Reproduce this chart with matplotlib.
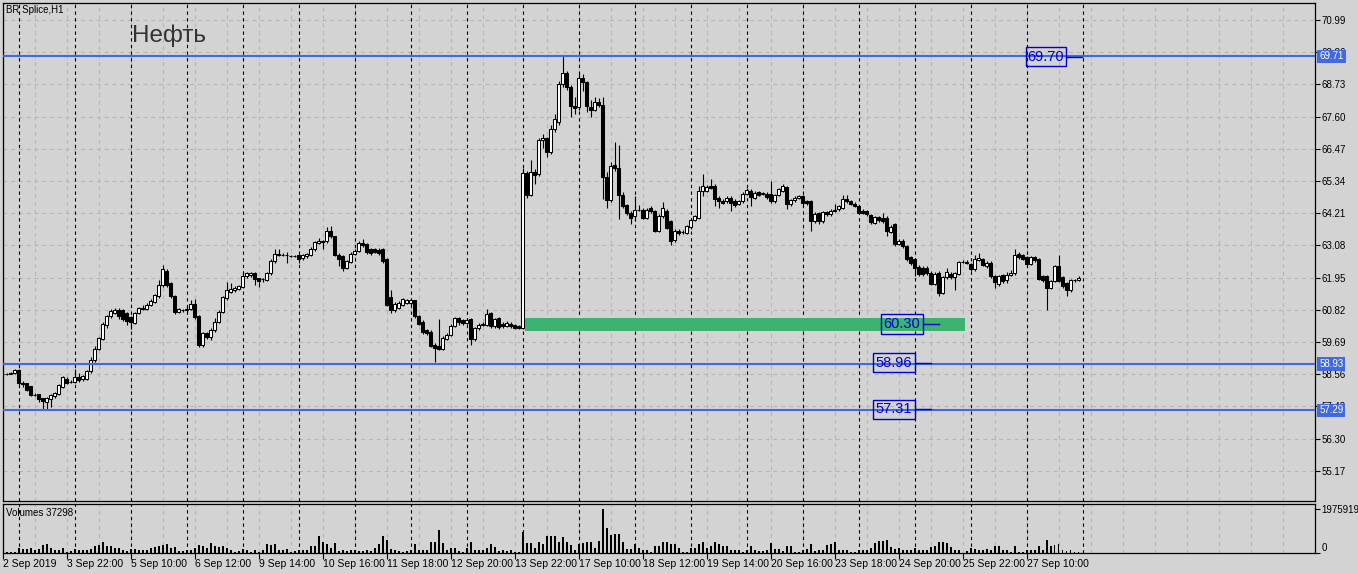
import matplotlib
matplotlib.use('Agg')
import matplotlib.pyplot as plt
import matplotlib.transforms as mtransforms
from matplotlib.patches import Rectangle
import numpy as np

# hourly bars, 14 per trading day (10:00-23:00), Sep 2 has only 4 bars
opens = [
    58.57, 58.58, 58.58, 58.60,
    58.70, 58.27, 58.24, 58.14, 57.84, 57.85, 57.72, 57.58, 57.70, 57.78, 57.87, 58.13, 58.40, 58.30,
    58.30, 58.48, 58.38, 58.40, 58.67, 59.05, 59.45, 59.81, 60.30, 60.60, 60.72, 60.83, 60.80, 60.70,
    60.57, 60.37, 60.70, 60.86, 60.86, 60.98, 61.10, 61.30, 61.68, 62.20, 61.75, 61.30, 60.74, 60.80,
    60.80, 60.85, 61.02, 60.60, 59.57, 60.00, 59.86, 60.12, 60.40, 60.74, 61.23, 61.45, 61.50, 61.55,
    61.63, 62.00, 62.03, 62.10, 61.93, 61.90, 61.88, 62.10, 62.52, 62.75, 62.76, 62.73, 62.70, 62.70,
    62.73, 62.63, 62.70, 62.75, 62.94, 63.18, 63.20, 63.22, 63.57, 63.40, 62.76, 62.72, 62.29, 62.50,
    62.79, 62.88, 63.17, 63.12, 62.96, 62.95, 62.93, 62.95, 62.60, 61.27, 60.80, 60.88, 61.00, 61.07,
    61.05, 61.15, 60.60, 60.40, 60.10, 60.06, 59.60, 59.55, 59.45, 59.81, 59.95, 60.27, 60.53, 60.45,
    60.37, 60.50, 59.78, 60.18, 60.30, 60.30, 60.72, 60.25, 60.53, 60.33, 60.27, 60.33, 60.30, 60.25,
    60.20, 65.63, 64.85, 65.67, 65.57, 66.77, 66.86, 66.36, 67.15, 67.41, 68.73, 69.12, 68.65, 67.97,
    67.93, 68.96, 68.81, 67.95, 67.83, 68.13, 68.02, 65.49, 64.67, 65.90, 65.80, 64.85, 64.49, 64.22,
    64.11, 64.34, 64.34, 64.05, 64.40, 64.28, 63.60, 64.13, 64.30, 63.93, 63.26, 63.58, 63.55, 63.52,
    63.72, 63.99, 64.05, 64.98, 65.00, 65.16, 65.16, 64.75, 64.65, 64.63, 64.75, 64.65, 64.55, 64.63,
    64.89, 65.00, 64.75, 64.95, 64.92, 64.89, 64.89, 64.63, 64.84, 65.00, 65.13, 64.52, 64.66, 64.75,
    64.80, 64.63, 64.63, 63.93, 64.22, 63.93, 64.26, 64.17, 64.28, 64.35, 64.40, 64.70, 64.63, 64.55,
    64.46, 64.28, 64.28, 64.15, 63.88, 64.08, 64.05, 64.05, 63.55, 63.82, 63.14, 63.23, 63.05, 62.67,
    62.59, 62.32, 62.30, 62.30, 62.12, 61.74, 62.12, 61.42, 61.97, 62.09, 61.97, 62.09, 62.50, 62.50,
    62.43, 62.24, 62.58, 62.59, 62.35, 62.47, 62.00, 61.71, 62.04, 61.88, 62.05, 62.10, 62.79, 62.74,
    62.67, 62.44, 62.67, 62.60, 62.00, 62.00, 61.60, 61.83, 62.35, 61.96, 61.75, 61.50, 61.85, 61.85,
]
closes = [
    58.58, 58.58, 58.61, 58.70,
    58.25, 58.22, 58.00, 57.82, 57.84, 57.68, 57.62, 57.73, 57.82, 57.90, 58.19, 58.45, 58.26, 58.30,
    58.48, 58.35, 58.50, 58.67, 59.07, 59.45, 59.83, 60.32, 60.60, 60.77, 60.82, 60.60, 60.50, 60.42,
    60.39, 60.72, 60.88, 60.88, 61.00, 61.12, 61.33, 61.68, 62.24, 61.68, 61.30, 60.74, 60.84, 60.80,
    60.86, 61.02, 60.56, 59.57, 60.00, 59.86, 60.13, 60.40, 60.74, 61.27, 61.50, 61.55, 61.60, 61.65,
    62.00, 62.10, 62.12, 61.90, 61.82, 61.90, 62.12, 62.54, 62.79, 62.78, 62.76, 62.73, 62.70, 62.71,
    62.60, 62.73, 62.77, 62.97, 63.20, 63.25, 63.23, 63.57, 63.40, 62.75, 62.60, 62.28, 62.52, 62.79,
    62.90, 63.17, 63.08, 62.85, 62.83, 62.86, 62.82, 62.52, 61.00, 60.80, 61.03, 61.07, 61.20, 61.15,
    61.15, 60.60, 60.33, 60.03, 60.00, 59.55, 59.48, 59.46, 59.83, 59.95, 60.27, 60.53, 60.38, 60.37,
    60.48, 59.78, 60.18, 60.28, 60.33, 60.68, 60.25, 60.50, 60.22, 60.25, 60.36, 60.25, 60.18, 60.18,
    65.63, 64.85, 65.65, 65.55, 66.77, 66.86, 66.36, 67.15, 67.50, 68.73, 69.12, 68.64, 67.97, 67.90,
    68.96, 68.81, 67.97, 67.83, 68.13, 68.02, 65.49, 64.67, 65.86, 65.80, 64.85, 64.46, 64.22, 64.05,
    64.31, 64.34, 64.05, 64.34, 64.28, 63.60, 64.13, 64.40, 63.70, 63.23, 63.60, 63.50, 63.55, 63.75,
    63.99, 64.10, 65.00, 65.16, 65.13, 65.10, 64.70, 64.63, 64.58, 64.75, 64.58, 64.50, 64.63, 64.89,
    65.04, 64.78, 64.93, 64.85, 64.88, 64.78, 64.63, 64.84, 65.05, 65.17, 64.52, 64.66, 64.75, 64.80,
    64.56, 64.56, 63.93, 64.19, 63.93, 64.26, 64.17, 64.30, 64.33, 64.45, 64.70, 64.63, 64.55, 64.47,
    64.23, 64.23, 64.19, 63.91, 64.08, 63.96, 63.93, 63.58, 63.72, 63.14, 63.23, 63.05, 62.59, 62.47,
    62.30, 62.08, 62.08, 62.12, 61.74, 62.09, 61.42, 61.97, 62.14, 61.97, 62.10, 62.50, 62.50, 62.48,
    62.24, 62.59, 62.63, 62.41, 62.47, 62.00, 61.81, 62.00, 61.83, 62.05, 62.10, 62.74, 62.67, 62.62,
    62.44, 62.67, 62.56, 61.89, 61.85, 61.60, 61.83, 62.35, 61.83, 61.65, 61.50, 61.85, 61.85, 61.95,
]
highs = [
    58.60, 58.62, 58.64, 58.74,
    58.74, 58.32, 58.26, 58.16, 57.90, 57.88, 57.74, 57.76, 57.86, 57.95, 58.22, 58.50, 58.45, 58.35,
    58.75, 58.60, 58.55, 58.72, 59.15, 59.55, 59.88, 60.40, 60.65, 60.85, 60.90, 60.88, 60.84, 60.75,
    60.62, 60.76, 60.92, 61.00, 61.05, 61.20, 61.38, 61.85, 62.40, 62.25, 61.80, 61.35, 60.90, 60.85,
    60.95, 61.15, 61.20, 60.65, 60.05, 60.05, 60.20, 60.55, 60.80, 61.32, 61.80, 61.75, 61.65, 61.70,
    62.20, 62.15, 62.16, 62.14, 61.95, 61.95, 62.16, 62.60, 62.95, 62.95, 62.82, 62.85, 62.75, 62.74,
    62.76, 62.78, 62.82, 63.02, 63.25, 63.35, 63.28, 63.72, 63.75, 63.42, 62.80, 62.76, 62.56, 62.84,
    62.95, 63.25, 63.30, 63.18, 63.00, 63.00, 63.00, 63.00, 62.65, 61.50, 61.08, 61.12, 61.25, 61.20,
    61.20, 61.18, 60.65, 60.45, 60.15, 60.10, 59.65, 60.50, 59.90, 60.00, 60.32, 60.58, 60.58, 60.50,
    60.55, 60.55, 60.22, 60.35, 60.38, 60.85, 60.76, 60.55, 60.58, 60.40, 60.42, 60.38, 60.34, 60.30,
    65.80, 65.70, 66.07, 65.75, 66.85, 66.98, 66.90, 67.30, 67.70, 68.85, 69.71, 69.20, 68.70, 68.30,
    69.10, 69.10, 68.85, 68.20, 68.30, 68.25, 68.30, 65.65, 66.00, 66.72, 66.60, 64.95, 64.55, 64.30,
    64.80, 64.50, 64.40, 64.40, 64.45, 64.32, 64.18, 64.60, 64.35, 63.98, 63.65, 63.65, 63.62, 63.80,
    64.05, 64.16, 65.15, 65.57, 65.20, 65.40, 65.22, 64.80, 64.70, 64.82, 64.80, 64.70, 64.68, 64.94,
    65.10, 65.05, 64.98, 65.00, 64.96, 64.94, 65.35, 64.88, 65.10, 65.25, 65.18, 64.70, 64.80, 64.84,
    64.85, 64.68, 64.68, 64.24, 64.26, 64.30, 64.30, 64.35, 64.55, 64.50, 64.85, 64.85, 64.68, 64.60,
    64.50, 64.35, 64.32, 64.20, 64.13, 64.12, 64.22, 64.10, 63.78, 63.86, 63.30, 63.30, 63.10, 62.72,
    62.64, 62.38, 62.35, 62.36, 62.18, 62.14, 62.18, 62.00, 62.30, 62.14, 62.15, 62.55, 62.58, 62.56,
    62.48, 62.75, 62.80, 62.65, 62.52, 62.52, 62.05, 62.05, 62.08, 62.15, 62.22, 62.95, 62.85, 62.78,
    62.72, 62.72, 62.70, 62.65, 62.05, 62.05, 61.88, 62.40, 62.75, 62.00, 61.80, 61.90, 61.92, 62.00,
]
lows = [
    58.55, 58.55, 58.56, 58.58,
    58.20, 58.10, 57.96, 57.78, 57.78, 57.60, 57.29, 57.30, 57.41, 57.74, 57.83, 58.08, 58.22, 58.24,
    58.25, 58.28, 58.33, 58.36, 58.62, 59.00, 59.40, 59.76, 60.20, 60.55, 60.68, 60.50, 60.42, 60.30,
    60.15, 60.32, 60.66, 60.80, 60.82, 60.94, 61.05, 61.25, 61.62, 61.62, 61.25, 60.68, 60.70, 60.74,
    60.76, 60.80, 60.50, 59.52, 59.50, 59.80, 59.75, 60.05, 60.35, 60.70, 61.18, 61.40, 61.45, 61.50,
    61.58, 61.95, 61.98, 61.70, 61.62, 61.80, 61.82, 62.05, 62.48, 62.70, 62.70, 62.45, 62.66, 62.66,
    62.45, 62.58, 62.65, 62.72, 62.90, 63.12, 62.95, 63.18, 63.35, 62.70, 62.35, 62.20, 62.24, 62.45,
    62.74, 62.84, 63.02, 62.78, 62.76, 62.80, 62.76, 62.45, 60.95, 60.70, 60.75, 60.84, 60.95, 61.02,
    61.00, 60.55, 60.28, 59.98, 59.95, 59.50, 59.00, 59.40, 59.42, 59.76, 59.90, 60.22, 60.30, 60.30,
    60.32, 59.60, 59.74, 60.12, 60.25, 60.25, 60.20, 60.20, 60.15, 60.20, 60.22, 60.20, 60.14, 60.14,
    60.15, 64.75, 64.80, 65.25, 65.50, 66.50, 66.20, 66.30, 67.05, 67.30, 68.65, 68.55, 67.60, 67.70,
    67.85, 68.50, 67.75, 67.60, 67.78, 67.95, 64.70, 64.40, 64.60, 65.70, 64.00, 64.40, 64.15, 63.85,
    63.95, 64.28, 64.00, 64.00, 64.22, 63.55, 63.55, 64.05, 63.65, 63.10, 63.20, 63.45, 63.48, 63.48,
    63.66, 63.94, 64.00, 64.80, 64.95, 65.05, 64.45, 64.40, 64.52, 64.58, 64.30, 64.44, 64.50, 64.58,
    64.84, 64.45, 64.70, 64.80, 64.84, 64.72, 64.58, 64.58, 64.80, 64.95, 64.35, 64.48, 64.62, 64.72,
    64.50, 64.50, 63.60, 63.88, 63.85, 63.88, 64.12, 64.12, 64.24, 64.30, 64.35, 64.58, 64.50, 64.42,
    64.18, 64.18, 64.10, 63.85, 63.82, 63.90, 63.88, 63.40, 63.50, 63.05, 63.08, 62.98, 62.52, 62.40,
    62.00, 62.02, 62.02, 62.05, 61.68, 61.70, 61.30, 61.38, 61.92, 61.92, 61.50, 62.04, 62.45, 62.44,
    62.18, 62.20, 62.55, 62.36, 62.30, 61.95, 61.60, 61.66, 61.76, 61.75, 62.00, 62.05, 62.60, 62.56,
    62.38, 62.40, 62.50, 61.85, 61.80, 60.80, 61.55, 61.78, 61.80, 61.58, 61.30, 61.45, 61.80, 61.82,
]
# tick volumes, thousands
volumes_k = [
    23, 23, 32, 45,
    241, 182, 182, 214, 150, 182, 364, 396, 241, 150, 150, 214, 46, 77,
    182, 150, 123, 123, 182, 332, 364, 487, 305, 305, 214, 214, 123, 91,
    182, 182, 150, 150, 150, 214, 273, 332, 364, 396, 214, 273, 91, 91,
    150, 123, 241, 364, 332, 241, 455, 332, 273, 332, 241, 123, 46, 91,
    182, 150, 59, 123, 32, 150, 396, 364, 396, 150, 150, 182, 59, 91,
    150, 123, 123, 305, 305, 760, 487, 423, 241, 455, 91, 150, 91, 123,
    150, 91, 91, 123, 91, 214, 423, 760, 605, 182, 150, 91, 59, 91,
    123, 396, 150, 150, 150, 487, 487, 1060, 455, 150, 241, 241, 91, 46,
    241, 487, 150, 123, 123, 241, 396, 273, 91, 123, 91, 123, 46, 46,
    956, 455, 455, 214, 514, 396, 787, 787, 787, 487, 728, 514, 364, 123,
    423, 455, 487, 487, 241, 546, 1975.919, 1124, 819, 851, 851, 487, 182, 182,
    396, 241, 150, 123, 46, 332, 332, 514, 487, 396, 396, 241, 32, 32,
    241, 241, 423, 514, 241, 305, 487, 396, 305, 305, 150, 150, 150, 32,
    150, 305, 123, 91, 91, 123, 455, 182, 182, 91, 332, 332, 59, 32,
    150, 182, 423, 91, 123, 123, 364, 423, 514, 123, 123, 123, 59, 32,
    150, 123, 123, 214, 455, 546, 546, 578, 273, 182, 214, 123, 150, 123,
    214, 150, 123, 150, 273, 332, 487, 514, 455, 273, 150, 150, 10, 91,
    214, 182, 150, 123, 182, 150, 305, 305, 123, 150, 32, 305, 32, 32,
    150, 123, 150, 305, 123, 578, 305, 364, 396, 123, 91, 150, 32, 59,
]

price_ticks = [70.99, 69.86, 68.73, 67.60, 66.47, 65.34, 64.21, 63.08, 61.95,
               60.82, 59.69, 58.56, 57.43, 56.30, 55.17]
time_labels = ['2 Sep 2019', '3 Sep 22:00', '5 Sep 10:00', '6 Sep 12:00', '9 Sep 14:00',
               '10 Sep 16:00', '11 Sep 18:00', '12 Sep 20:00', '13 Sep 22:00',
               '17 Sep 10:00', '18 Sep 12:00', '19 Sep 14:00', '20 Sep 16:00',
               '23 Sep 18:00', '24 Sep 20:00', '25 Sep 22:00', '27 Sep 10:00']
levels = [69.71, 58.93, 57.29]
tag_texts = ['69.70', '60.30', '58.96', '57.31']
tag_prices = [69.70, 60.32, 58.97, 57.33]
zone_low, zone_high = 60.08, 60.53
vol_max = 1975919

o = np.array(opens)
c = np.array(closes)
h = np.array(highs)
l = np.array(lows)
vol = np.array(volumes_k) * 1000
x = np.arange(len(c))

BG = '#d3d3d3'
GRID = '#b6b6b6'
BLUE = '#4169e1'
TAGC = '#0000cd'
FONT = 'Liberation Sans'

W, H = 1358, 574
fig = plt.figure(figsize=(W / 100, H / 100), dpi=100, facecolor=BG)
ax = fig.add_axes([3 / W, (H - 501) / H, 1312 / W, 498 / H], facecolor=BG)
axv = fig.add_axes([3 / W, (H - 553) / H, 1312 / W, 49 / H], facecolor=BG)

xmin, xmax = 0.125, 328.125
for a in (ax, axv):
    a.set_xlim(xmin, xmax)
    for s in a.spines.values():
        s.set_color('black')
        s.set_linewidth(0.9)
    # grid verticals every 8 bars, day separators every 14 bars
    for g in range(0, 329, 8):
        a.axvline(g, color=GRID, lw=0.8, ls=(0, (3.5, 3.5)), zorder=0.5)
    for d in range(4, 271, 14):
        a.axvline(d, color='black', lw=0.8, ls=(0, (3, 3)), zorder=1)

ax.set_ylim(54.113, 71.587)
for p in price_ticks:
    ax.axhline(p, color=GRID, lw=0.8, ls=(0, (3.5, 3.5)), zorder=0.5)

# signal zone
ax.add_patch(Rectangle((130.6, zone_low), 110.0, zone_high - zone_low,
                       facecolor='#3cb371', edgecolor='none', zorder=1.5))

# candles
ax.vlines(x, l, h, color='black', lw=0.8, zorder=3)
bottom = np.minimum(o, c)
height = np.abs(c - o)
up = c >= o
ax.bar(x[up], height[up], bottom=bottom[up], width=0.62, facecolor='white',
       edgecolor='black', linewidth=0.75, zorder=4)
ax.bar(x[~up], height[~up], bottom=bottom[~up], width=0.62, facecolor='black',
       edgecolor='black', linewidth=0.75, zorder=4)

for p in levels:
    ax.axhline(p, color=BLUE, lw=1.5, zorder=5)

# price tags on chart
box_x0 = [255.8, 219.7, 217.7, 217.7]
box_x1 = [265.9, 230.05, 228.05, 228.05]
line_x1 = [269.9, 234.1, 232.1, 232.1]
box_h = 0.68
for t, p, x0, x1, xl in zip(tag_texts, tag_prices, box_x0, box_x1, line_x1):
    ax.add_patch(Rectangle((x0, p - box_h / 2), x1 - x0, box_h, facecolor='none',
                           edgecolor=TAGC, linewidth=1.0, zorder=6))
    ax.plot([x1, xl], [p, p], color=TAGC, lw=1.0, zorder=6)
    ax.text((x0 + x1) / 2, p, t, color=TAGC, fontsize=10.5, family=FONT,
            ha='center', va='center', zorder=7)

# right price axis
ax.yaxis.tick_right()
ax.set_yticks(price_ticks)
ax.set_yticklabels([f'{p:.2f}' for p in price_ticks])
ax.tick_params(axis='y', direction='out', length=3.5, width=0.8, pad=1,
               labelsize=7, colors='black')
for lab in ax.get_yticklabels():
    lab.set_family(FONT)
ax.set_xticks([])

trans = mtransforms.blended_transform_factory(ax.transAxes, ax.transData)
for p in levels:
    ax.text(1.0032, p, f'{p:.2f}', transform=trans, color='white', fontsize=7,
            family=FONT, ha='left', va='center', clip_on=False, zorder=10,
            bbox=dict(boxstyle='square,pad=0.2', facecolor=BLUE, edgecolor='none'))

# volumes
axv.bar(x, vol, width=0.45, color='black', zorder=3)
axv.set_ylim(0, 2.217e6)
axv.yaxis.tick_right()
axv.set_yticks([0, vol_max])
axv.set_yticklabels(['0', str(vol_max)])
axv.tick_params(axis='y', direction='out', length=3.5, width=0.8, pad=1,
                labelsize=7, colors='black')
for lab in axv.get_yticklabels():
    lab.set_family(FONT)
axv.get_yticklabels()[0].set_va('bottom')

axv.set_xticks(np.arange(0, 16 * len(time_labels), 16))
axv.set_xticklabels(time_labels, ha='left', family=FONT, fontsize=7.5)
axv.tick_params(axis='x', direction='out', length=4, width=0.8, pad=0.5)

fig.text(6 / W, 1 - 10 / H, 'BR Splice,H1', fontsize=7, family=FONT,
         va='center', ha='left')
fig.text(6 / W, 1 - 513 / H, 'Volumes 37298', fontsize=7, family=FONT,
         va='center', ha='left')
fig.text(132 / W, 1 - 41.7 / H, 'Нефть', fontsize=17.5, family=FONT,
         color='#333333', va='baseline', ha='left')

fig.savefig('out.png', dpi=100, facecolor=BG)
